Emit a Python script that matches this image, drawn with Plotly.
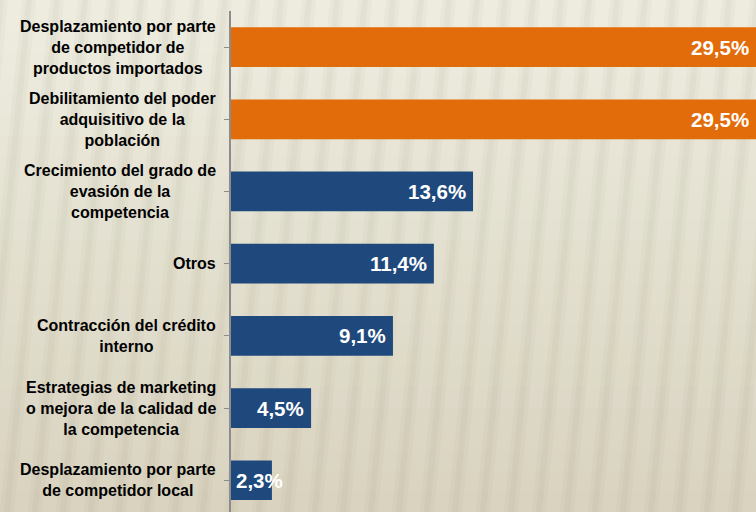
import plotly.graph_objects as go

categories = [
    "Desplazamiento por parte<br>de competidor de<br>productos importados",
    "Debilitamiento del poder<br>adquisitivo de la<br>población",
    "Crecimiento del grado de<br>evasión de la<br>competencia",
    "Otros",
    "Contracción del crédito<br>interno",
    "Estrategias de marketing<br>o mejora de la calidad de<br>la competencia",
    "Desplazamiento por parte<br>de competidor local",
]
values = [29.5, 29.5, 13.6, 11.4, 9.1, 4.5, 2.3]
value_labels = ["29,5%", "29,5%", "13,6%", "11,4%", "9,1%", "4,5%", "2,3%"]
bar_colors = ["#e36c0a", "#e36c0a", "#1f497d", "#1f497d", "#1f497d", "#1f497d", "#1f497d"]

FONT = "Arial, Liberation Sans, sans-serif"

fig = go.Figure(go.Bar(
    y=list(range(len(categories))),
    x=values,
    orientation="h",
    marker=dict(color=bar_colors, line=dict(width=0)),
    hoverinfo="x",
))

# category labels: block right-aligned, lines centred
for i, cat in enumerate(categories):
    fig.add_annotation(
        x=0, xref="paper", y=i, yref="y",
        text=cat, showarrow=False,
        xanchor="right", xshift=-13, align="center",
        font=dict(family=FONT, size=16, color="black", weight="bold"),
    )

# value labels at the inside end of each bar (start of bar when it doesn't fit)
for i, (v, lab) in enumerate(zip(values, value_labels)):
    fits = v > 3
    fig.add_annotation(
        x=v if fits else 0, xref="x", y=i, yref="y",
        text=lab, showarrow=False,
        xanchor="right" if fits else "left", xshift=-5 if fits else 3,
        font=dict(family=FONT, size=20.5, color="white", weight="bold"),
    )

# background: soft vertical gradient
top = (237, 236, 223)
bot = (217, 211, 192)
n = 24
for k in range(n):
    t = k / (n - 1)
    c = tuple(round(top[j] + (bot[j] - top[j]) * t) for j in range(3))
    fig.add_shape(type="rect", xref="paper", yref="paper",
                  x0=-1, x1=1.1, y0=1 - (k + 1) / n - 0.003, y1=1.03 if k == 0 else 1 - k / n,
                  fillcolor="rgb(%d,%d,%d)" % c, line=dict(width=0), layer="below")

# faint slanted stripes of the textured backdrop (pixel coords -> paper coords)
def px(x):
    return (x - 231) / 525

def py(y):
    return (512 - y) / 501

for s in range(-3, 30):
    b = s * 28
    for w, op in ((14, 0.035), (6, 0.04)):
        x_bot = b + (14 - w) / 2
        path = "M %.4f,%.4f L %.4f,%.4f L %.4f,%.4f L %.4f,%.4f Z" % (
            px(x_bot), py(512), px(x_bot + w), py(512),
            px(x_bot + w + 50), py(0), px(x_bot + 50), py(0))
        fig.add_shape(type="path", xref="paper", yref="paper", path=path,
                      fillcolor="rgba(110,100,70,%.3f)" % op, line=dict(width=0), layer="below")

fig.update_layout(
    width=756, height=512,
    margin=dict(l=231, r=0, t=11, b=0),
    paper_bgcolor="rgb(228,224,208)",
    plot_bgcolor="rgba(0,0,0,0)",
    bargap=0.45,
    showlegend=False,
    xaxis=dict(range=[0, 29.5], visible=False, fixedrange=True),
    yaxis=dict(
        range=[6.44, -0.5], tickmode="array", tickvals=list(range(len(categories))),
        showticklabels=False, showgrid=False, zeroline=False, fixedrange=True,
        showline=True, linecolor="#8c8c8c", linewidth=2,
        ticks="outside", tickson="boundaries", ticklen=5, tickcolor="#8c8c8c", tickwidth=1,
    ),
)

fig.write_html("out.html", config={"displayModeBar": False},
               post_script="document.body.style.margin='0px';")
